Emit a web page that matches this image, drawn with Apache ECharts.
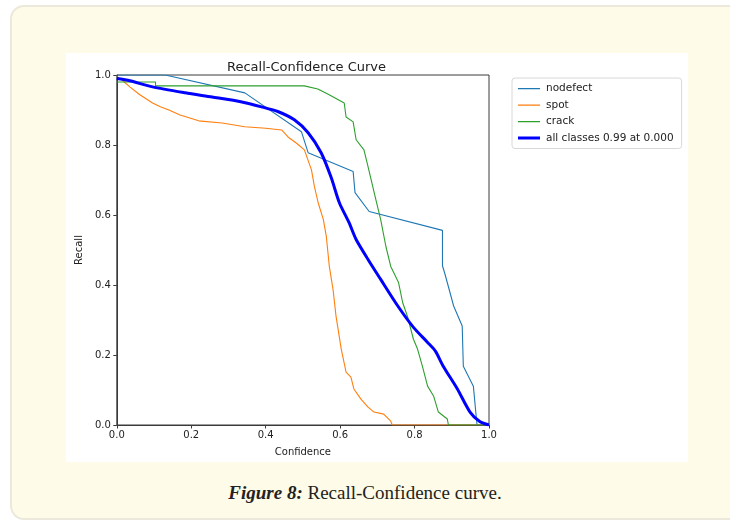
<!DOCTYPE html>
<html>
<head>
<meta charset="utf-8">
<script src="https://cdn.jsdelivr.net/npm/echarts@6/dist/echarts.min.js"></script>
<style>
html,body{margin:0;padding:0;width:730px;height:523px;background:#ffffff;overflow:hidden;}
#card{position:absolute;left:10px;top:5px;width:760px;height:515px;background:#fefbe8;border:2px solid #ece9dc;border-radius:14px;box-sizing:border-box;}
#chart{position:absolute;left:66px;top:53px;width:622px;height:409px;background:#ffffff;}
#cap{position:absolute;left:0;width:730px;top:482px;text-align:center;font-family:"Liberation Serif",serif;font-size:19px;color:#222;}
#cap b{font-style:italic;}
</style>
</head>
<body>
<div id="card"></div>
<div id="chart"></div>
<div id="cap"><b>Figure 8:</b> Recall-Confidence curve.</div>
<script>
const xTicks = [0, 0.2, 0.4, 0.6, 0.8, 1.0];
const yTicks = [0, 0.2, 0.4, 0.6, 0.8, 1.0];
const seriesNames = ['nodefect', 'spot', 'crack', 'all classes 0.99 at 0.000'];

const nodefect = [[0,1.0],[0.13,1.0],[0.344,0.949],[0.496,0.838],[0.514,0.778],[0.635,0.724],[0.64,0.664],[0.678,0.61],[0.875,0.556],[0.875,0.455],[0.882,0.43],[0.905,0.34],[0.928,0.283],[0.931,0.168],[0.958,0.111],[0.966,0.02],[0.968,0.0],[1.0,0.0]];
const spot = [[0,0.995],[0.01,0.99],[0.02,0.98],[0.035,0.966],[0.06,0.945],[0.096,0.92],[0.117,0.909],[0.14,0.90],[0.17,0.886],[0.22,0.869],[0.283,0.863],[0.344,0.852],[0.40,0.848],[0.443,0.843],[0.46,0.823],[0.483,0.805],[0.504,0.786],[0.523,0.729],[0.531,0.681],[0.541,0.635],[0.555,0.587],[0.563,0.538],[0.571,0.453],[0.581,0.387],[0.589,0.311],[0.603,0.217],[0.616,0.151],[0.629,0.137],[0.637,0.103],[0.656,0.074],[0.675,0.051],[0.691,0.037],[0.717,0.031],[0.736,0.011],[0.74,0],[1,0]];
const crack = [[0,0.98],[0.104,0.98],[0.104,0.969],[0.504,0.969],[0.54,0.96],[0.568,0.945],[0.611,0.92],[0.616,0.88],[0.635,0.866],[0.643,0.815],[0.664,0.786],[0.675,0.738],[0.696,0.644],[0.709,0.587],[0.723,0.51],[0.736,0.453],[0.757,0.407],[0.768,0.35],[0.781,0.31],[0.797,0.245],[0.808,0.217],[0.821,0.168],[0.835,0.111],[0.851,0.083],[0.864,0.037],[0.888,0.017],[0.891,0],[1,0]];
const allClasses = [[0,0.99],[0.03,0.985],[0.096,0.966],[0.184,0.949],[0.256,0.937],[0.336,0.923],[0.389,0.909],[0.434,0.895],[0.477,0.872],[0.514,0.835],[0.549,0.778],[0.576,0.707],[0.598,0.635],[0.624,0.578],[0.643,0.53],[0.675,0.473],[0.709,0.416],[0.755,0.34],[0.797,0.279],[0.835,0.236],[0.856,0.211],[0.877,0.168],[0.915,0.103],[0.949,0.037],[0.976,0.009],[1.0,0.0]];

const colors = ['#1f77b4', '#ff7f0e', '#2ca02c', '#0000ff'];
const dataSets = [nodefect, spot, crack, allClasses];
const widths = [1.1, 1.1, 1.1, 3];
const thinIcon = 'path://M0,0h0.01v0.01H0z M0,4.4h22v1.3H0z M0,9.99h0.01V10H0z';
const thickIcon = 'path://M0,0h0.01v0.01H0z M0,3.5h22v3H0z M0,9.99h0.01V10H0z';

const chart = echarts.init(document.getElementById('chart'));
const axisCol = '#3a3a3a';
const font = 'DejaVu Sans';
chart.setOption({
  animation: false,
  title: {text: 'Recall-Confidence Curve', left: 235.5, textAlign: 'center', top: 3,
    textStyle: {fontFamily: font, fontSize: 13, fontWeight: 'normal', color: '#222'}},
  grid: {left: 48, top: 22, width: 375, height: 351, show: true, borderColor: axisCol, borderWidth: 1, backgroundColor: 'transparent'},
  legend: {
    orient: 'vertical', left: 446, top: 25, padding: [5, 8, 5, 6],
    itemWidth: 22, itemHeight: 10, itemGap: 5.5,
    borderColor: '#d8d8d8', borderWidth: 1, borderRadius: 3, backgroundColor: '#fff',
    textStyle: {fontFamily: font, fontSize: 10.5, color: '#222', padding: [0,0,0,1]},
    data: seriesNames.map((n, i) => ({name: n, icon: i === 3 ? thickIcon : thinIcon,
      itemStyle: {color: colors[i], borderWidth: 0, opacity: 1}}))
  },
  xAxis: {type: 'value', min: 0, max: 1, interval: 0.2,
    name: 'Confidence', nameLocation: 'middle', nameGap: 22,
    nameTextStyle: {fontFamily: font, fontSize: 10, color: '#222'},
    axisLine: {show: true, lineStyle: {color: axisCol, width: 1}},
    axisTick: {show: true, length: 3.5, lineStyle: {color: axisCol}},
    axisLabel: {fontFamily: font, fontSize: 10, color: '#222', margin: 5, formatter: v => v.toFixed(1)},
    splitLine: {show: false}},
  yAxis: {type: 'value', min: 0, max: 1, interval: 0.2,
    name: 'Recall', nameLocation: 'middle', nameGap: 30, nameRotate: 90,
    nameTextStyle: {fontFamily: font, fontSize: 10, color: '#222'},
    axisLine: {show: true, lineStyle: {color: axisCol, width: 1}},
    axisTick: {show: true, length: 3.5, lineStyle: {color: axisCol}},
    axisLabel: {fontFamily: font, fontSize: 10, color: '#222', margin: 6, formatter: v => v.toFixed(1)},
    splitLine: {show: false}},
  series: seriesNames.map((n, i) => ({
    name: n, type: 'line', data: dataSets[i], symbol: 'none', z: i === 3 ? 5 : 3,
    smooth: i === 3 ? 0.25 : false,
    lineStyle: {color: colors[i], width: widths[i]}, itemStyle: {color: colors[i]}
  }))
});
</script>
</body>
</html>
